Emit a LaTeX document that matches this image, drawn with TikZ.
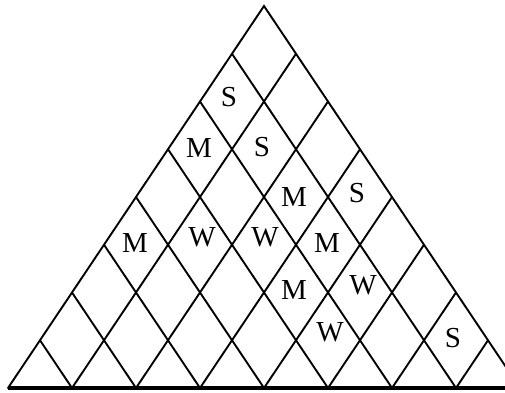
\documentclass[tikz,border=0pt]{standalone}
\usepackage{fontspec}
\setmainfont{Liberation Serif}
\usepackage{tikz}
\usetikzlibrary{positioning,calc}

\tikzset{
    gridline/.style={line width=1.9pt, line cap=round},
    letter/.style={fill=white, inner sep=1pt, font=\fontsize{29}{30}\selectfont}
}

\begin{document}
\begin{tikzpicture}[x=1pt, y=1pt]
    \useasboundingbox (0,0) rectangle (505,392);
    \clip (0,0) rectangle (505,392);
    % Corners
    \coordinate (apex) at (264,386);
    \coordinate (left) at (8,4);
    \coordinate (right) at (520,4);
    % Sides and base
    \draw[gridline] (left) -- (apex) -- (right);
    \draw[line width=4pt] (left) -- (right);
    % Grid lines parallel to the sides
    \foreach \i in {1,...,7} {
        \draw[gridline] ($(apex)+(-32*\i,-47.75*\i)$) -- ($(right)+(-64*\i,0)$);
        \draw[gridline] ($(apex)+(32*\i,-47.75*\i)$) -- ($(left)+(64*\i,0)$);
    }
    % Letters
    \node[letter] (s1) at (229,295) {S};
    \node[letter] (m1) at (199,244) {M};
    \node[letter] (s2) at (262,245) {S};
    \node[letter] (m2) at (294,195) {M};
    \node[letter] (s3) at (357,199) {S};
    \node[letter] (m3) at (135,149) {M};
    \node[letter] (w1) at (202,155) {W};
    \node[letter] (w2) at (265,155) {W};
    \node[letter] (m4) at (327,149) {M};
    \node[letter] (m5) at (294,102) {M};
    \node[letter] (w3) at (363,107) {W};
    \node[letter] (w4) at (330,60) {W};
    \node[letter] (s4) at (453,54) {S};
\end{tikzpicture}
\end{document}
